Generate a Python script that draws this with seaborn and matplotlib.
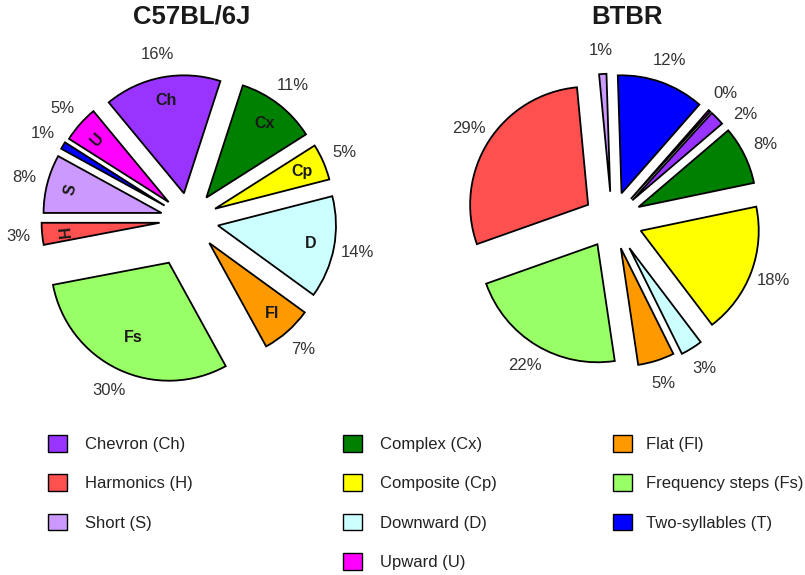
import matplotlib
matplotlib.use("Agg")
import matplotlib.pyplot as plt
import numpy as np
import seaborn as sns
from matplotlib.patches import Patch

# Data (clockwise order, starting from Complex)
codes = ["Cx", "Cp", "D", "Fl", "Fs", "H", "S", "T", "U", "Ch"]
c57_pct = [11, 5, 14, 7, 30, 3, 8, 1, 5, 16]
btbr_pct = [8, 18, 3, 5, 22, 29, 1, 12, 0.3, 2]
names = {"Ch": "Chevron (Ch)", "H": "Harmonics (H)", "S": "Short (S)",
         "Cx": "Complex (Cx)", "Cp": "Composite (Cp)", "D": "Downward (D)",
         "U": "Upward (U)", "Fl": "Flat (Fl)", "Fs": "Frequency steps (Fs)",
         "T": "Two-syllables (T)"}
legend_cols = [["Ch", "H", "S"], ["Cx", "Cp", "D", "U"], ["Fl", "Fs", "T"]]

# Style
colors = {"Ch": "#9933FF", "H": "#FF5050", "S": "#CC99FF", "Cx": "#008000",
          "Cp": "#FFFF00", "D": "#CCFFFF", "U": "#FF00FF", "Fl": "#FF9900",
          "Fs": "#99FF66", "T": "#0000FF"}
c57_explode = [0.24, 0.24, 0.25, 0.26, 0.4, 0.25, 0.24, 0.24, 0.23, 0.23]
btbr_explode = [0.25, 0.26, 0.28, 0.25, 0.24, 0.24, 0.24, 0.24, 0.24, 0.24]
inner_dist = {"Fs": 0.7}  # default 0.8

sns.set_theme(style="white")
plt.rcParams["font.family"] = ["Liberation Sans", "DejaVu Sans"]

W, H = 805, 575
fig = plt.figure(figsize=(W / 100, H / 100), dpi=100)
R = 118  # pie radius in pixels
LIM = 1.6


def draw_pie(cx, cy, values, start, explode, title, inner=False,
             rotated=(), nudge=None):
    half = LIM * R
    ax = fig.add_axes([(cx - half) / W, (H - cy - half) / H,
                       2 * half / W, 2 * half / H])
    wedges, texts = ax.pie(values, colors=[colors[c] for c in codes],
                           startangle=start, counterclock=False,
                           explode=explode,
                           labels=[f"{round(v)}%" for v in values],
                           labeldistance=1.2,
                           wedgeprops=dict(edgecolor="black", linewidth=1.3),
                           textprops=dict(fontsize=12, color="#333333"))
    for t in texts:
        t.set_ha("center")
        t.set_va("center")
    if nudge:
        for w, t, c in zip(wedges, texts, codes):
            if c in nudge:
                th = np.deg2rad((w.theta1 + w.theta2) / 2 + nudge[c])
                t.set_position((w.center[0] + 1.2 * np.cos(th),
                                w.center[1] + 1.2 * np.sin(th)))
    if inner:
        for w, c in zip(wedges, codes):
            if c == "T":
                continue
            mid = (w.theta1 + w.theta2) / 2
            th = np.deg2rad(mid)
            d = inner_dist.get(c, 0.8)
            rot = mid - 90 if c in rotated else 0
            ax.text(w.center[0] + d * np.cos(th), w.center[1] + d * np.sin(th),
                    c, ha="center", va="center", fontsize=11.5,
                    fontweight="bold", color="#1a1a1a", rotation=rot)
    ax.set_xlim(-LIM, LIM)
    ax.set_ylim(-LIM, LIM)
    ax.set_aspect("equal")
    ax.axis("off")
    fig.text(title[1] / W, 1 - 17 / H, title[0], ha="center", va="center",
             fontsize=18.5, fontweight="bold", color="#1a1a1a")
    return ax


draw_pie(189, 220, c57_pct, 72, c57_explode, ("C57BL/6J", 192), inner=True,
         rotated=("H", "S", "U"))
draw_pie(612, 220, btbr_pct, 40.5, btbr_explode, ("BTBR", 627),
         nudge={"Ch": -7})

# Legend, three columns
col_x = [48, 343, 613]
col_pad = [1.08, 1.08, 0.8]
for xs, pad, col in zip(col_x, col_pad, legend_cols):
    handles = [Patch(facecolor=colors[c], edgecolor="black", linewidth=1.0,
                     label=names[c]) for c in col]
    leg = fig.legend(handles=handles, loc="upper left",
                     bbox_to_anchor=(xs / W, 1 - 435 / H), frameon=False,
                     fontsize=12, handlelength=1.15, handleheight=1.15,
                     handletextpad=pad, labelspacing=1.35, borderpad=0,
                     borderaxespad=0)
    for t in leg.get_texts():
        t.set_color("#222222")

fig.savefig("out.png", dpi=100)
